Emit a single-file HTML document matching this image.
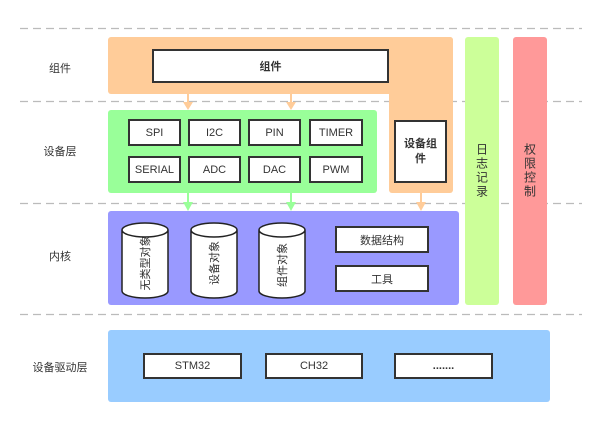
<!DOCTYPE html>
<html><head><meta charset="utf-8"><style>
body{margin:0;width:600px;height:423px;background:#fff;position:relative;overflow:hidden;font-family:"Liberation Sans","Noto Sans CJK SC",sans-serif;}
div{position:absolute;box-sizing:border-box;}
.lbl{font-size:11px;color:#333;width:90px;text-align:center;left:15px;}
.b{background:#fff;border:2px solid #333;font-size:11px;color:#333;display:flex;align-items:center;justify-content:center;}
.col{border-radius:3px;display:flex;align-items:center;justify-content:center;font-size:12px;color:#333;writing-mode:vertical-rl;letter-spacing:2px;}
</style></head><body>
<svg style="position:absolute;left:0;top:0" width="600" height="423">
<g stroke="#bbb" stroke-width="1.2" stroke-dasharray="8,5">
<line x1="20" y1="28.5" x2="582" y2="28.5"/>
<line x1="20" y1="101.5" x2="582" y2="101.5"/>
<line x1="20" y1="203.5" x2="582" y2="203.5"/>
<line x1="20" y1="314.5" x2="582" y2="314.5"/>
</g></svg>
<div class="lbl" style="top:60px">组件</div>
<div class="lbl" style="top:143px">设备层</div>
<div class="lbl" style="top:248px">内核</div>
<div class="lbl" style="top:359px">设备驱动层</div>

<div style="left:108px;top:37px;width:345px;height:57px;background:#ffcc99;border-radius:3px"></div>
<div style="left:389px;top:37px;width:64px;height:156px;background:#ffcc99;border-radius:3px"></div>
<div class="b" style="left:152px;top:49px;width:237px;height:34px;font-weight:bold">组件</div>
<div class="b" style="left:394px;top:120px;width:53px;height:63px;font-weight:bold;text-align:center;padding:0 4px;line-height:15px">设备组件</div>

<div style="left:108px;top:110px;width:269px;height:83px;background:#99ff99;border-radius:3px"></div>
<div class="b" style="left:128px;top:119px;width:53px;height:27px">SPI</div>
<div class="b" style="left:188px;top:119px;width:53px;height:27px">I2C</div>
<div class="b" style="left:248px;top:119px;width:53px;height:27px">PIN</div>
<div class="b" style="left:309px;top:119px;width:54px;height:27px">TIMER</div>
<div class="b" style="left:128px;top:156px;width:53px;height:27px">SERIAL</div>
<div class="b" style="left:188px;top:156px;width:53px;height:27px">ADC</div>
<div class="b" style="left:248px;top:156px;width:53px;height:27px">DAC</div>
<div class="b" style="left:309px;top:156px;width:54px;height:27px">PWM</div>

<div style="left:108px;top:211px;width:351px;height:94px;background:#9999ff;border-radius:3px"></div>
<svg style="position:absolute;left:0;top:0" width="600" height="423">
<g fill="#fff" stroke="#222" stroke-width="1.5">
<path d="M122,230 v61 a23,7 0 0 0 46,0 v-61 a23,7 0 0 0 -46,0 a23,7 0 0 0 46,0"/>
<path d="M191,230 v61 a23,7 0 0 0 46,0 v-61 a23,7 0 0 0 -46,0 a23,7 0 0 0 46,0"/>
<path d="M259,230 v61 a23,7 0 0 0 46,0 v-61 a23,7 0 0 0 -46,0 a23,7 0 0 0 46,0"/>
</g>
<g font-size="11" fill="#333" font-family="Liberation Sans,Noto Sans CJK SC,sans-serif" text-anchor="middle">
<text transform="translate(149,263) rotate(-90)">无类型对象</text>
<text transform="translate(218,263) rotate(-90)">设备对象</text>
<text transform="translate(286,265) rotate(-90)">组件对象</text>
</g>
<g stroke-width="2">
<line x1="188" y1="94" x2="188" y2="104" stroke="#ffcc99"/><polygon points="183,102 193,102 188,110" fill="#ffcc99"/>
<line x1="291" y1="94" x2="291" y2="104" stroke="#ffcc99"/><polygon points="286,102 296,102 291,110" fill="#ffcc99"/>
<line x1="188" y1="193" x2="188" y2="204" stroke="#99ff99"/><polygon points="183,202 193,202 188,211" fill="#99ff99"/>
<line x1="291" y1="193" x2="291" y2="204" stroke="#99ff99"/><polygon points="286,202 296,202 291,211" fill="#99ff99"/>
<line x1="421" y1="193" x2="421" y2="204" stroke="#ffcc99"/><polygon points="416,202 426,202 421,211" fill="#ffcc99"/>
</g>
</svg>
<div class="b" style="left:335px;top:226px;width:94px;height:27px">数据结构</div>
<div class="b" style="left:335px;top:265px;width:94px;height:27px">工具</div>

<div class="col" style="left:465px;top:37px;width:34px;height:268px;background:#ccff99">日志记录</div>
<div class="col" style="left:513px;top:37px;width:34px;height:268px;background:#ff9999">权限控制</div>

<div style="left:108px;top:330px;width:442px;height:72px;background:#99ccff;border-radius:3px"></div>
<div class="b" style="left:143px;top:353px;width:99px;height:26px">STM32</div>
<div class="b" style="left:265px;top:353px;width:98px;height:26px">CH32</div>
<div class="b" style="left:394px;top:353px;width:99px;height:26px;font-weight:bold">.......</div>
</body></html>
